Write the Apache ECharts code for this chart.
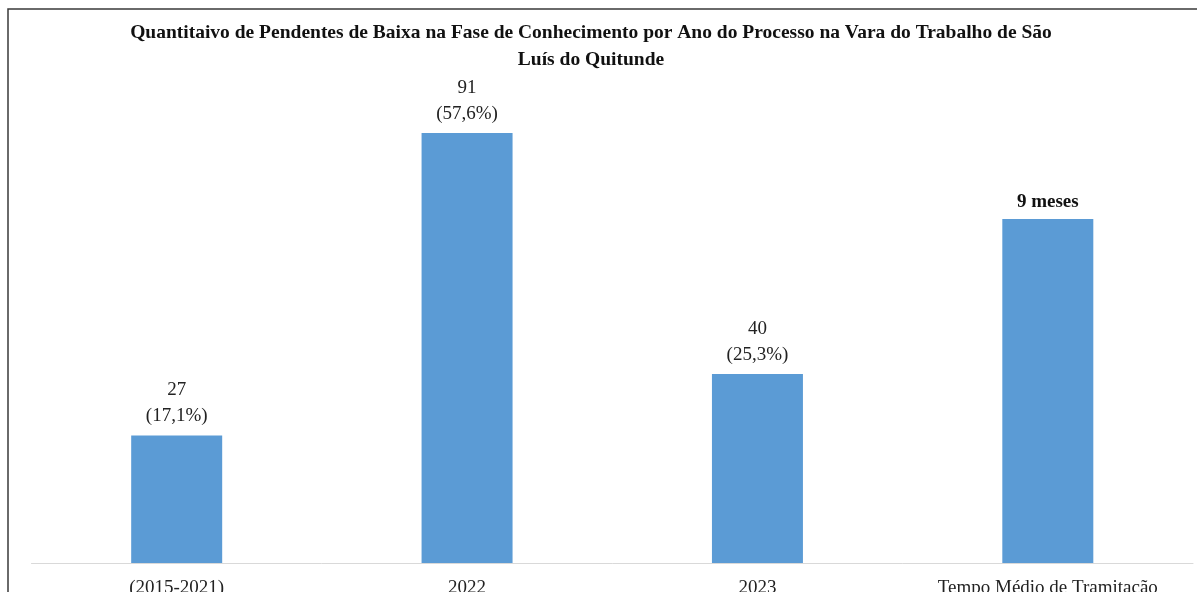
<!DOCTYPE html>
<html>
  <head>
    <meta charset="utf-8" />
    <title>Pendentes de Baixa</title>
    <script src="https://cdn.jsdelivr.net/npm/echarts@6/dist/echarts.min.js"></script>
    <style>
      html, body { margin: 0; padding: 0; background: #fff; }
    </style>
  </head>
  <body>
    <div id="main" style="width: 1197px; height: 592px;"></div>
    <script type="text/javascript">
      // dados
      const categorias = ["(2015-2021)", "2022", "2023", "Tempo Médio de Tramitação"];
      const quantidades = [27, 91, 40];
      const percentuais = ["17,1%", "57,6%", "25,3%"];
      const tempoMedio = 9; // meses

      const serif = "'Liberation Serif', 'Times New Roman', serif";
      const azul = "#5b9bd5";

      const myChart = echarts.init(document.getElementById("main"));
      const option = {
        animation: false,
        backgroundColor: "#fff",
        graphic: [
          {
            type: "rect",
            shape: { x: 8, y: 9, width: 1300, height: 700 },
            style: { fill: "none", stroke: "#3a3a3a", lineWidth: 1.5 },
            silent: true,
          },
        ],
        title: {
          text: "Quantitaivo de Pendentes de Baixa na Fase de Conhecimento por Ano do Processo na Vara do Trabalho de São\nLuís do Quitunde",
          left: 591,
          top: 19.5,
          padding: 0,
          textAlign: "center",
          textStyle: {
            fontFamily: serif,
            fontWeight: "bold",
            fontSize: 19.5,
            lineHeight: 27,
            color: "#111",
          },
        },
        grid: {
          left: 31.5,
          right: 4,
          top: 90.5,
          bottom: 29,
          containLabel: false,
          outerBoundsMode: "none",
        },
        xAxis: {
          type: "category",
          data: categorias,
          axisTick: { show: false },
          axisLine: { lineStyle: { color: "#d9d9d9", width: 1 } },
          axisLabel: {
            fontFamily: serif,
            fontSize: 19,
            color: "#222",
            margin: 16,
            interval: 0,
          },
        },
        yAxis: [
          { type: "value", min: 0, max: 100, show: false },
          { type: "value", min: 0, max: 12.36, show: false },
        ],
        series: [
          {
            type: "bar",
            barWidth: 91,
            barGap: "-100%",
            itemStyle: { color: azul },
            label: {
              show: true,
              position: "top",
              distance: 6,
              fontFamily: serif,
              fontSize: 19,
              lineHeight: 26,
              color: "#222",
              formatter: p => p.value + "\n(" + percentuais[p.dataIndex] + ")",
            },
            data: quantidades.concat(["-"]),
          },
          {
            type: "bar",
            yAxisIndex: 1,
            barWidth: 91,
            barGap: "-100%",
            itemStyle: { color: azul },
            label: {
              show: true,
              position: "top",
              distance: 7,
              fontFamily: serif,
              fontSize: 19,
              fontWeight: "bold",
              color: "#111",
              formatter: p => p.value + " meses",
            },
            data: ["-", "-", "-", tempoMedio],
          },
        ],
      };
      myChart.setOption(option);
    </script>
  </body>
</html>
